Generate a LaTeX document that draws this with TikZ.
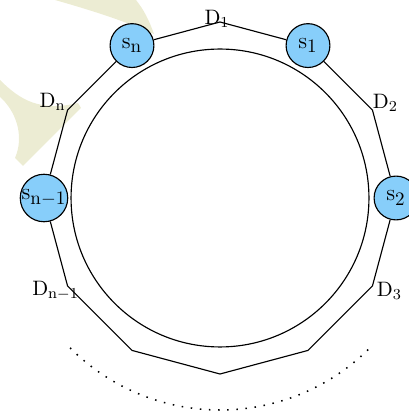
\documentclass[tikz,border=0pt]{standalone}
\usepackage{xcolor}
\usepackage{amsmath}
\usepackage{amssymb}
\usepackage{tikz}

\definecolor{satblue}{RGB}{135,206,250}
\definecolor{paleolive}{RGB}{236,236,211}
\newcommand{\satsub}[1]{_{\text{\normalsize #1}}}
\tikzset{
  sat/.style={circle, draw, fill=satblue, minimum size=23pt, inner sep=0pt, font=\large},
  lbl/.style={inner sep=0pt, font=\fontsize{11}{13}\selectfont},
}

\begin{document}
\begin{tikzpicture}[x=0.525pt, y=0.525pt, line width=0.6pt]
    \useasboundingbox (0,0) rectangle (409,412);
    % faint mark in the corner
    \fill[paleolive] (55,412) -- (136,412) .. controls (144,402) and (149,392) .. (154,378)
        .. controls (122,392) and (90,402) .. (55,412) -- cycle;
    \fill[paleolive] (0,332) .. controls (20,312) and (40,300) .. (78,309) -- (81,304) -- (23,246)
        -- (15,254) .. controls (25,277) and (15,302) .. (0,315) -- cycle;

    \begin{scope}[shift={(220,214)}]
    \draw (0,0) circle (78.2pt);

    \coordinate (d1) at (90:176);
    \node[sat] (s1) at (60:176) {$\mathrm{s}\satsub{1}$};
    \coordinate (d2) at (30:176);
    \node[sat] (s2) at (0:176) {$\mathrm{s}\satsub{2}$};
    \coordinate (d3) at (-30:176);
    \coordinate (b1) at (-60:176);
    \coordinate (b2) at (-90:176);
    \coordinate (b3) at (-120:176);
    \coordinate (dm) at (-150:176);
    \node[sat] (sm) at (180:176) {$\mathrm{s}\satsub{n$-$1}$};
    \coordinate (dn) at (150:176);
    \node[sat] (sn) at (120:176) {$\mathrm{s}\satsub{n}$};

    \draw (sn) -- (d1) -- (s1) -- (d2) -- (s2) -- (d3) -- (b1) -- (b2) -- (b3) -- (dm) -- (sm) -- (dn) -- (sn);

    \node[lbl] (D1) at ([shift={(-3,3)}]d1) {$\mathrm{D}_1$};
    \node[lbl] (D2) at ([shift={(13,7)}]d2) {$\mathrm{D}_2$};
    \node[lbl] (D3) at ([shift={(17,-5)}]d3) {$\mathrm{D}_3$};
    \node[lbl] (Dm) at ([shift={(-12,-5)}]dm) {$\mathrm{D}_{\mathrm{n}-1}$};
    \node[lbl] (Dn) at ([shift={(-15,8)}]dn) {$\mathrm{D}_{\mathrm{n}}$};

    \draw[loosely dotted, thick] (-135:212) arc[start angle=-135, end angle=-45, radius=111.3pt];
    \end{scope}
\end{tikzpicture}
\end{document}
